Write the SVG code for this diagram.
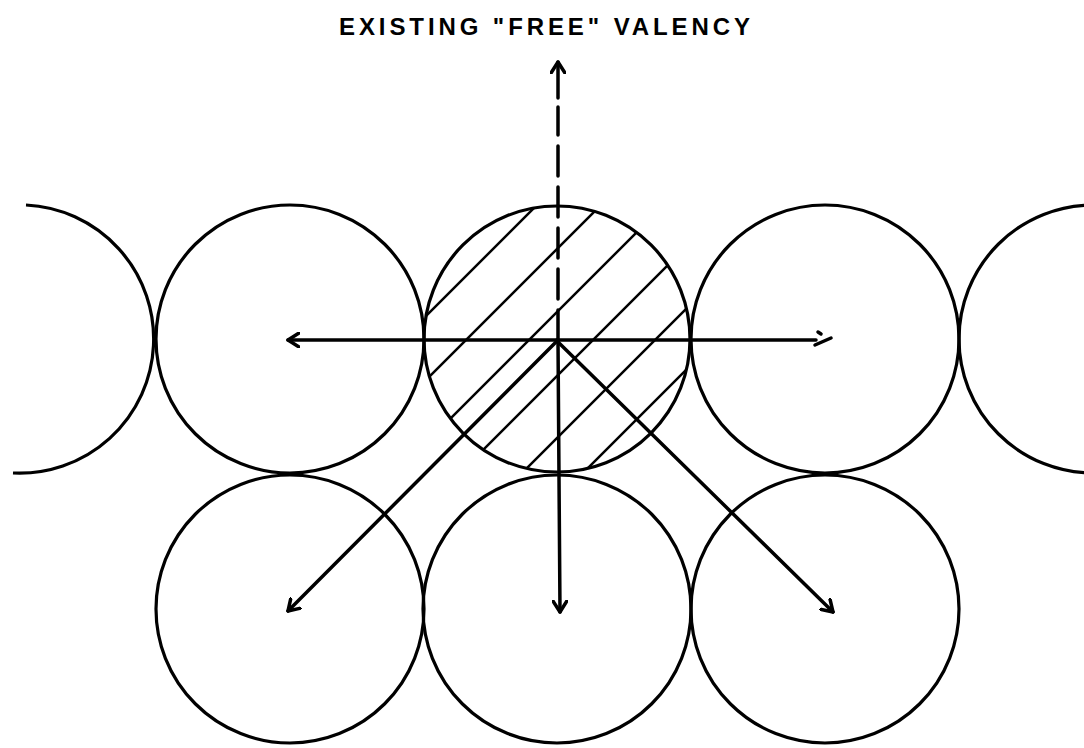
<svg xmlns="http://www.w3.org/2000/svg" width="1084" height="748" viewBox="0 0 1084 748">
<style>
.c{fill:none;stroke:#000;stroke-width:3.2}
.h{stroke:#000;stroke-width:2.5}
.a{fill:none;stroke:#000;stroke-width:3.5;stroke-linecap:round}
.t{font-family:"Liberation Sans",Arial,sans-serif;font-weight:bold;font-size:24px;fill:#000}
</style>
<defs>
<marker id="ah" viewBox="-12 -8 14 16" markerWidth="14" markerHeight="16" refX="0" refY="0" orient="auto" markerUnits="userSpaceOnUse">
<path d="M-11,-7 L0,0 L-11,7" fill="none" stroke="#000" stroke-width="3.5" stroke-linecap="round" stroke-linejoin="round"/>
</marker>
<clipPath id="cc"><circle cx="557" cy="339" r="133"/></clipPath>
</defs>
<rect width="1084" height="748" fill="#fff"/>
<text class="t" x="339" y="35" textLength="411" lengthAdjust="spacing">EXISTING "FREE" VALENCY</text>
<g id="atom-left-partial"><path class="c" d="M26,205 A134,134 0 1 1 13,473"/></g>
<g id="atom-top-1"><circle class="c" cx="290" cy="339" r="134"/></g>
<g id="atom-center">
<g clip-path="url(#cc)">
<line class="h" x1="400" y1="342" x2="600" y2="142"/>
<line class="h" x1="400" y1="406" x2="700" y2="106"/>
<line class="h" x1="400" y1="469" x2="750" y2="119"/>
<line class="h" x1="420" y1="513" x2="750" y2="183"/>
<line class="h" x1="450" y1="545" x2="750" y2="245"/>
<line class="h" x1="500" y1="556" x2="750" y2="306"/>
</g>
<circle class="c" cx="557" cy="339" r="133"/>
</g>
<g id="atom-top-3"><circle class="c" cx="825" cy="339" r="134"/></g>
<g id="atom-right-partial"><circle class="c" cx="1093" cy="339" r="134"/></g>
<g id="atom-bottom-1"><circle class="c" cx="290" cy="609" r="134"/></g>
<g id="atom-bottom-2"><circle class="c" cx="557" cy="609" r="134"/></g>
<g id="atom-bottom-3"><circle class="c" cx="825" cy="609" r="134"/></g>
<g id="connectors">
<line class="a" x1="558" y1="98" x2="558" y2="62" marker-end="url(#ah)"/>
<line class="a" x1="558" y1="340" x2="558" y2="107" stroke-dasharray="30 11" stroke-linecap="butt"/>
<line class="a" x1="557" y1="340" x2="288" y2="340" marker-end="url(#ah)"/>
<line class="a" x1="557" y1="340" x2="816" y2="340"/>
<path class="a" d="M818,332 L821,334 M815,345 L831,338"/>
<line class="a" x1="557" y1="341" x2="288" y2="611" marker-end="url(#ah)"/>
<line class="a" x1="557" y1="341" x2="833" y2="612" marker-end="url(#ah)"/>
<line class="a" x1="558" y1="341" x2="560" y2="612" marker-end="url(#ah)"/>
</g>
</svg>
